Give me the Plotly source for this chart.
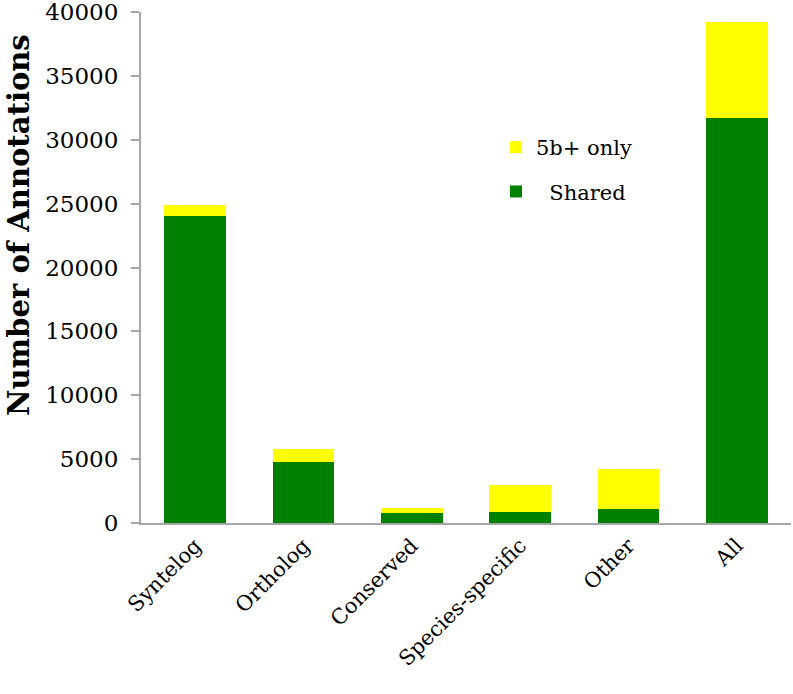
import plotly.graph_objects as go

categories = ["Syntelog", "Ortholog", "Conserved", "Species-specific", "Other", "All"]
shared = [24000, 4780, 800, 900, 1070, 31700]
only_5b = [900, 1000, 400, 2050, 3180, 7500]
y_ticks = [0, 5000, 10000, 15000, 20000, 25000, 30000, 35000, 40000]

SERIF = "DejaVu Serif"
GREEN = "#008000"
YELLOW = "#ffff00"
GREY = "#a6a6a6"

W, H = 793, 694
L, T, B, R = 141, 12, 171, 2
PW, PH = W - L - R, H - T - B

fig = go.Figure()
fig.add_trace(go.Bar(x=categories, y=shared, name="\u00a0\u00a0Shared",
                     marker=dict(color=GREEN, line=dict(width=0)),
                     legendgroup="b", legendrank=2))
fig.add_trace(go.Bar(x=categories, y=only_5b, name="5b+ only",
                     marker=dict(color=YELLOW, line=dict(width=0)),
                     legendgroup="a", legendrank=1))

fig.update_layout(
    width=W, height=H,
    margin=dict(l=L, r=R, t=T, b=B, autoexpand=False),
    barmode="stack",
    bargap=0.428,
    plot_bgcolor="white", paper_bgcolor="white",
    font=dict(family=SERIF, size=22, color="black"),
    showlegend=True,
    legend=dict(
        x=(496 - L) / PW, y=1 - (127 - T) / PH, xanchor="left", yanchor="top",
        xref="paper", yref="paper",
        traceorder="grouped", tracegroupgap=14,
        font=dict(family=SERIF, size=21, color="black"),
        bgcolor="rgba(0,0,0,0)",
    ),
    xaxis=dict(
        range=[-0.5, 5.5],
        automargin=False,
        showline=True, linecolor=GREY, linewidth=2,
        ticks="", tickangle=-45,
        tickfont=dict(family=SERIF, size=21, color="black"),
        ticklabeloverflow="allow",
        showgrid=False, zeroline=False,
    ),
    yaxis=dict(
        range=[0, 40000],
        automargin=False,
        tickvals=y_ticks,
        ticktext=[str(v) for v in y_ticks],
        showline=True, linecolor=GREY, linewidth=2,
        ticks="outside", ticklen=8, tickcolor=GREY, tickwidth=2,
        tickfont=dict(family=SERIF, size=23, color="black"),
        ticklabelstandoff=8,
        ticklabeloverflow="allow",
        showgrid=False, zeroline=False,
    ),
    annotations=[dict(
        text="<b>Number of Annotations</b>", textangle=-90,
        xref="paper", yref="paper",
        x=(19 - L) / PW, y=1 - (225 - T) / PH,
        xanchor="center", yanchor="middle", showarrow=False,
        font=dict(family=SERIF, size=29, color="black"),
    )],
)

fig.write_html("out.html", config={"displayModeBar": False},
               post_script="document.body.style.margin='0';")
